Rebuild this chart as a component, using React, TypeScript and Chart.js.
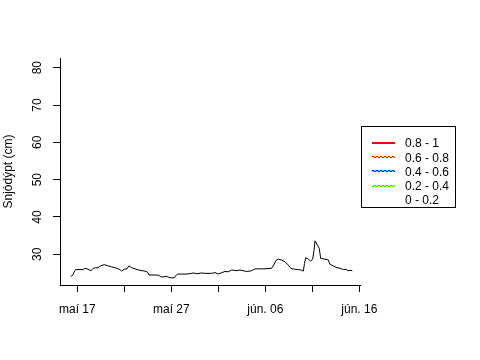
import React, { useEffect, useRef } from "react";
import { Chart, registerables } from "chart.js";

Chart.register(...registerables);

// Days after 17 May (maí 17 = 0)
const dayOffsets = [
  -0.7, -0.51, -0.32, -0.17, 0.29, 0.64, 0.82, 1.14, 1.46, 1.7, 1.96, 2.2, 2.49, 2.87, 3.23, 3.66, 3.9,
  4.19, 4.54, 4.72, 5.0, 5.29, 5.5, 5.79, 6.14, 6.67, 7.2, 7.49, 7.63, 8.16, 8.62, 8.98, 9.51, 9.86,
  10.32, 10.47, 10.68, 11.46, 11.99, 12.34, 12.73, 13.23, 13.59, 14.3, 14.65, 15.0, 15.39, 15.71, 16.03,
  16.43, 16.96, 17.31, 17.63, 18.02, 18.55, 18.9, 19.44, 19.97, 20.68, 20.96, 21.11, 21.38, 21.74, 22.1,
  22.45, 22.73, 23.16, 23.51, 23.8, 24.04, 24.17, 24.3, 24.57, 24.83, 25.04, 25.18, 25.29, 25.53, 25.74,
  25.89, 26.35, 26.7, 26.88, 27.23, 27.52, 27.95, 28.3, 28.59, 28.8, 29.01, 29.26,
];

// Snow depth (cm)
const snowDepth = [
  24.1, 24.3, 25.3, 25.9, 25.9, 25.9, 26.25, 26.0, 25.6, 26.25, 26.4, 26.4, 26.95, 27.2, 26.95, 26.6, 26.5,
  26.25, 25.9, 25.5, 26.0, 26.1, 26.9, 26.4, 26.1, 25.7, 25.5, 25.2, 24.45, 24.45, 24.4, 23.9, 24.1, 23.7,
  23.7, 24.3, 24.7, 24.7, 24.8, 25.0, 24.8, 25.0, 24.9, 24.9, 25.1, 24.7, 25.1, 25.4, 25.3,
  25.8, 25.6, 25.8, 25.6, 25.4, 25.6, 26.1, 26.1, 26.1, 26.25, 27.4, 28.3, 28.7, 28.5, 28.0,
  27.1, 26.2, 26.0, 25.9, 25.8, 25.5, 27.5, 29.1, 28.7, 28.2, 28.7, 31.0, 33.6, 32.5, 31.6,
  28.9, 28.7, 28.5, 27.3, 26.9, 26.5, 26.25, 25.9, 26.0, 25.6, 25.7, 25.6,
];

const xTickDays = [0, 5, 10, 15, 20, 25, 30];
const xTickLabels = ["maí 17", "", "maí 27", "", "jún. 06", "", "jún. 16"];
const yTickValues = [30, 40, 50, 60, 70, 80];
const yTitle = "Snjódýpt (cm)";

const legendLabels = ["0.8 - 1", "0.6 - 0.8", "0.4 - 0.6", "0.2 - 0.4", "0 - 0.2"];
const legendColorA = ["#FF0000", "#FF0000", "#0000FF", "#FFFF00", ""];
const legendColorB = ["#FF0000", "#FFFF00", "#00FFFF", "#00FF00", ""];

const FONT = "'Liberation Sans', Arial, Helvetica, sans-serif";

const legendPlugin = {
  id: "rLegend",
  afterDraw(chart: any) {
    const ctx = chart.ctx as CanvasRenderingContext2D;
    const bx = 361.5, by = 126.5, bw = 94, bh = 81;
    ctx.save();
    ctx.strokeStyle = "#000";
    ctx.lineWidth = 1;
    ctx.strokeRect(bx, by, bw, bh);
    ctx.font = `12px ${FONT}`;
    ctx.fillStyle = "#000";
    ctx.textBaseline = "middle";
    ctx.textAlign = "left";
    legendLabels.forEach((lab, i) => {
      const yc = 143 + i * 14.2;
      const a = legendColorA[i];
      const b = legendColorB[i];
      if (a) {
        for (let x = 372; x < 395; x += 1) {
          const even = Math.floor((x - 372) / 2) % 2 === 0;
          ctx.fillStyle = even ? a : b;
          ctx.fillRect(x, Math.round(yc) - 1, 1, 1);
          ctx.fillStyle = even ? b : a;
          ctx.fillRect(x, Math.round(yc), 1, 1);
        }
      }
      ctx.fillStyle = "#000";
      ctx.fillText(lab, 405, yc + 1);
    });
    ctx.restore();
  },
};

export default function App() {
  const ref = useRef<HTMLCanvasElement>(null);
  useEffect(() => {
    if (!ref.current) return;
    const chart = new Chart(ref.current, {
      type: "line",
      data: {
        datasets: [
          {
            data: dayOffsets.map((d, i) => ({ x: d, y: snowDepth[i] })),
            borderColor: "#000",
            borderWidth: 1,
            pointRadius: 0,
            tension: 0,
            fill: false,
          },
        ],
      },
      options: {
        animation: false,
        responsive: false,
        maintainAspectRatio: false,
        layout: { padding: { left: 0, top: 58, right: 120, bottom: 0 } },
        plugins: { legend: { display: false }, tooltip: { enabled: false }, title: { display: false } },
        scales: {
          x: {
            type: "linear",
            min: (60 - 77.3) / 9.4,
            max: (360 - 77.3) / 9.4,
            afterBuildTicks: (scale: any) => {
              scale.ticks = xTickDays.map((v) => ({ value: v }));
            },
            afterFit: (scale: any) => {
              scale.height = 75;
            },
            grid: {
              drawOnChartArea: false,
              drawTicks: true,
              tickLength: 7,
              color: "#000",
              tickColor: "#000",
            },
            border: { display: true, color: "#000", width: 1 },
            ticks: {
              autoSkip: false,
              maxRotation: 0,
              minRotation: 0,
              padding: 10,
              color: "#000",
              font: { family: FONT, size: 12 },
              callback: (v: any) => {
                const idx = xTickDays.indexOf(Number(v));
                return idx >= 0 ? xTickLabels[idx] : "";
              },
            },
          },
          y: {
            type: "linear",
            min: 30 - (285 - 254.3) / 3.732,
            max: 30 + (254.3 - 58) / 3.732,
            afterBuildTicks: (scale: any) => {
              scale.ticks = yTickValues.map((v) => ({ value: v }));
            },
            afterFit: (scale: any) => {
              scale.width = 60;
            },
            grid: {
              drawOnChartArea: false,
              drawTicks: true,
              tickLength: 7,
              color: "#000",
              tickColor: "#000",
            },
            border: { display: true, color: "#000", width: 1 },
            title: {
              display: true,
              text: yTitle,
              color: "#000",
              font: { family: FONT, size: 12 },
              padding: { top: 1, bottom: 0 },
            },
            ticks: {
              autoSkip: false,
              minRotation: 90,
              maxRotation: 90,
              crossAlign: "center",
              padding: 9,
              color: "#000",
              font: { family: FONT, size: 12 },
              callback: (v: any) => String(v),
            },
          },
        },
      },
      plugins: [legendPlugin],
    } as any);
    return () => chart.destroy();
  }, []);
  return (
    <div style={{ position: "fixed", left: 0, top: 0, width: 480, height: 360, background: "#fff" }}>
      <canvas ref={ref} width={480} height={360} style={{ width: 480, height: 360, display: "block" }} />
    </div>
  );
}
